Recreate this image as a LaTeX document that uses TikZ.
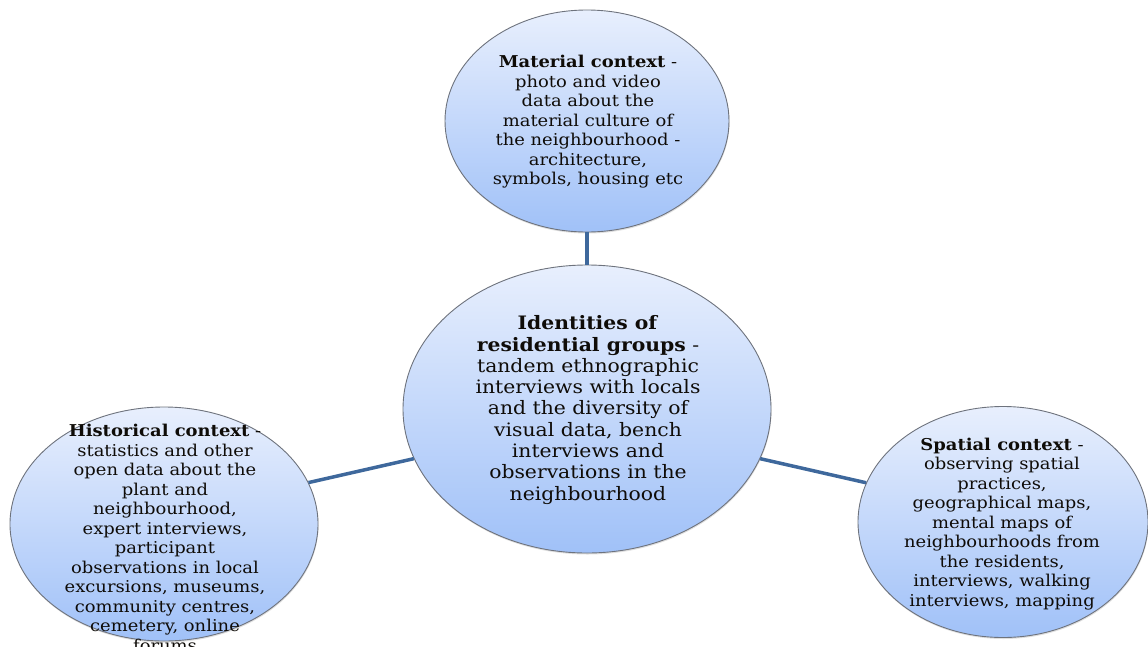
\documentclass[tikz,border=0pt]{standalone}
\usepackage{fontspec}
\setmainfont{DejaVu Serif}[FakeStretch=1.1]
\usetikzlibrary{shapes.geometric,shadows}
\definecolor{edgegray}{RGB}{110,115,125}
\definecolor{linkblue}{RGB}{62,104,156}
\definecolor{filltop}{RGB}{232,239,253}
\definecolor{fillbot}{RGB}{160,193,248}
\definecolor{txt}{RGB}{15,12,8}
\tikzset{
  bubble/.style={ellipse, draw=edgegray, line width=0.9pt, top color=filltop, bottom color=fillbot, inner sep=0pt,
    drop shadow={opacity=0.25, shadow xshift=0.5pt, shadow yshift=-1.5pt}},
  outertext/.style={align=center, text=txt, font=\fontsize{16.3}{19.5}\selectfont, inner sep=0pt},
  centertext/.style={align=center, text=txt, font=\fontsize{18.5}{21.3}\selectfont, inner sep=0pt},
  link/.style={draw=linkblue, line width=3.5pt}
}
\begin{document}
\begin{tikzpicture}[x=1pt,y=-1pt]
\useasboundingbox (0,0) rectangle (1148,646);
\node[bubble, minimum width=284pt, minimum height=222pt] (T) at (587,121) {};
\node[bubble, minimum width=368pt, minimum height=288pt] (C) at (587,409) {};
\node[bubble, minimum width=308pt, minimum height=234pt] (L) at (164,524) {};
\node[bubble, minimum width=290pt, minimum height=231pt] (R) at (1003,522) {};
\draw[link] (T.south) -- (C.north);
\draw[link] (L.16) -- (C.196);
\draw[link] (C.344) -- (R.164);
\node[outertext] (Tt) at (588,122) {\textbf{Material context} -\\photo and video\\data about the\\material culture of\\the neighbourhood -\\architecture,\\symbols, housing etc};
\node[centertext] (Ct) at (588,410) {\textbf{Identities of}\\\textbf{residential groups} -\\tandem ethnographic\\interviews with locals\\and the diversity of\\visual data, bench\\interviews and\\observations in the\\neighbourhood};
\node[outertext] (Lt) at (165,538) {\textbf{Historical context} -\\statistics and other\\open data about the\\plant and\\neighbourhood,\\expert interviews,\\participant\\observations in local\\excursions, museums,\\community centres,\\cemetery, online\\forums};
\node[outertext] (Rt) at (1002,524) {\textbf{Spatial context} -\\observing spatial\\practices,\\geographical maps,\\mental maps of\\neighbourhoods from\\the residents,\\interviews, walking\\interviews, mapping};
\end{tikzpicture}
\end{document}
